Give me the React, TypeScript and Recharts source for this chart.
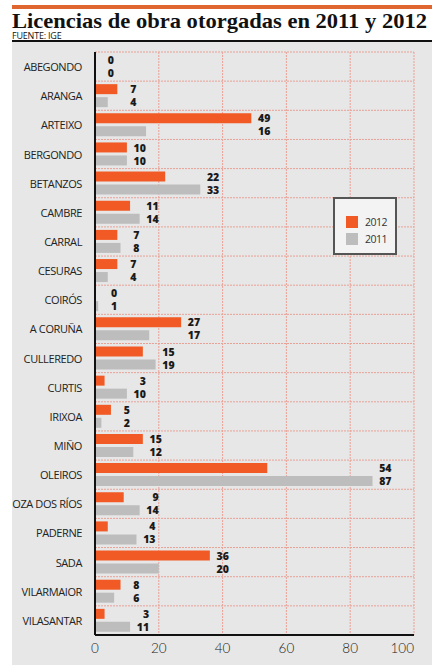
import { Bar, ComposedChart, CartesianGrid, Legend, Scatter, XAxis, YAxis } from 'recharts';

const municipios = [
  'ABEGONDO', 'ARANGA', 'ARTEIXO', 'BERGONDO', 'BETANZOS', 'CAMBRE', 'CARRAL', 'CESURAS', 'COIRÓS', 'A CORUÑA',
  'CULLEREDO', 'CURTIS', 'IRIXOA', 'MIÑO', 'OLEIROS', 'OZA DOS RÍOS', 'PADERNE', 'SADA', 'VILARMAIOR', 'VILASANTAR',
];
const licencias2012 = [0, 7, 49, 10, 22, 11, 7, 7, 0, 27, 15, 3, 5, 15, 54, 9, 4, 36, 8, 3];
const licencias2011 = [0, 4, 16, 10, 33, 14, 8, 4, 1, 17, 19, 10, 2, 12, 87, 14, 13, 20, 6, 11];
const xTicks = [0, 20, 40, 60, 80, 100];

const ORANGE = '#f15a24';
const GRAY = '#bdbdbd';
const GRID = '#e9a196';

const W = 441;
const H = 670;
const M = { top: 52, right: 27, bottom: 5, left: 12 };
const Y_AXIS_W = 83;
const BAR = 10;
const GAP = 3;

const data = municipios.map((name, i) => ({
  name,
  v2012: licencias2012[i],
  v2011: licencias2011[i],
  max: Math.max(licencias2012[i], licencias2011[i]),
}));

// both numbers sit right-aligned just past the longer of the two bars
const ValuePair = (props: any) => {
  const { cx, cy, payload } = props;
  const off = (BAR + GAP) / 2;
  const style = { fontFamily: "'Open Sans', sans-serif", fontWeight: 800, fontSize: 10.5, fill: '#1a1a1a' };
  return (
    <g>
      <text x={cx + 19} y={cy - off} textAnchor="end" dominantBaseline="central" {...style}>{payload.v2012}</text>
      <text x={cx + 19} y={cy + off} textAnchor="end" dominantBaseline="central" {...style}>{payload.v2011}</text>
    </g>
  );
};

const NameTick = ({ x, y, payload }: any) => (
  <text x={x} y={y} textAnchor="end" dominantBaseline="central" fill="#222"
    fontFamily="'Open Sans', sans-serif" fontSize={11} letterSpacing={-0.4}>
    {payload.value}
  </text>
);

const NumTick = ({ x, y, payload }: any) => (
  <text x={x} y={y} dy="0.71em" textAnchor={payload.value === 100 ? 'end' : 'middle'} fill="#222"
    fontFamily="'Lato', sans-serif" fontWeight={300} fontSize={13.5}>
    {payload.value}
  </text>
);

const LegendBox = () => (
  <div style={{
    width: 64, height: 58, border: '2px solid #555', background: '#f3f3f3', boxSizing: 'border-box',
    fontFamily: "'Open Sans', sans-serif", fontSize: 10.5, color: '#333', letterSpacing: -0.5,
    paddingTop: 14, paddingLeft: 11,
  }}>
    {[['2012', ORANGE], ['2011', GRAY]].map(([label, color]) => (
      <div key={label} style={{ display: 'flex', alignItems: 'center', height: 17 }}>
        <span style={{ width: 12, height: 12, background: color, display: 'inline-block', marginRight: 7 }} />
        {label}
      </div>
    ))}
  </div>
);

export default function App() {
  return (
    <div style={{ position: 'absolute', left: 0, top: 0, width: W, height: H, background: '#fff' }}>
      <div style={{ position: 'absolute', left: 12, top: 5, width: 420, height: 4, background: '#e0662f' }} />
      <svg style={{ position: 'absolute', left: 0, top: 0 }} width={W} height={40}>
        <text x={12} y={28} textLength={415} lengthAdjust="spacingAndGlyphs"
          fontFamily="'Liberation Serif', serif" fontWeight={700} fontSize={22} fill="#111">
          Licencias de obra otorgadas en 2011 y 2012
        </text>
        <text x={12} y={38.5} fontFamily="'Open Sans', sans-serif" fontSize={9} fill="#111" letterSpacing={-0.2}>
          FUENTE: IGE
        </text>
      </svg>
      <div style={{ position: 'absolute', left: 12, top: 40, width: 420, height: 2, background: '#111' }} />
      <div style={{ position: 'absolute', left: 12, top: 42, width: 420, height: 623, background: '#e7e7e7' }} />
      <div style={{ position: 'absolute', left: 0, top: 0 }}>
        <ComposedChart
          width={W}
          height={H}
          data={data}
          layout="vertical"
          margin={M}
          barSize={BAR}
          barGap={GAP}
        >
          <CartesianGrid
            stroke={GRID}
            strokeDasharray="2 1"
            horizontalCoordinatesGenerator={({ offset }: any) => {
              const step = offset.height / municipios.length;
              return municipios.map((_, i) => offset.top + i * step);
            }}
          />
          <XAxis
            type="number"
            domain={[0, 100]}
            ticks={xTicks}
            height={30}
            tickLine={false}
            tickMargin={2}
            axisLine={{ stroke: '#111', strokeWidth: 2 }}
            tick={<NumTick />}
          />
          <YAxis
            type="category"
            dataKey="name"
            width={Y_AXIS_W}
            tickLine={false}
            tickMargin={7}
            interval={0}
            axisLine={{ stroke: '#111', strokeWidth: 2 }}
            tick={<NameTick />}
          />
          <Legend
            layout="vertical"
            align="center"
            verticalAlign="middle"
            wrapperStyle={{ position: 'absolute', left: 333, top: 197, width: 64 }}
            content={() => <LegendBox />}
          />
          <Bar dataKey="v2012" name="2012" fill={ORANGE} isAnimationActive={false} />
          <Bar dataKey="v2011" name="2011" fill={GRAY} isAnimationActive={false} />
          <Scatter dataKey="max" legendType="none" isAnimationActive={false} shape={<ValuePair />} />
        </ComposedChart>
      </div>
    </div>
  );
}
